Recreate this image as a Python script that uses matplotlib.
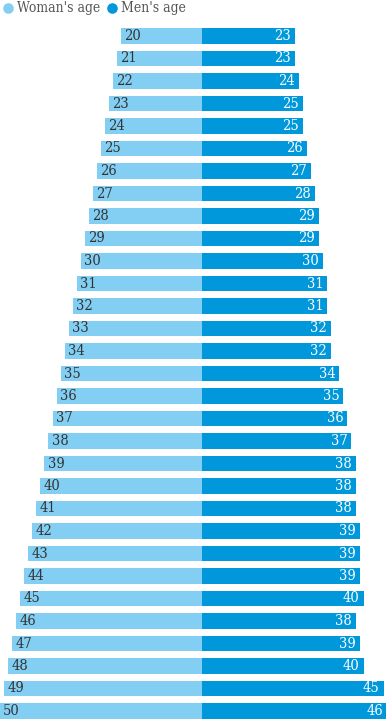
import numpy as np
import matplotlib
matplotlib.use("Agg")
import matplotlib.pyplot as plt
from matplotlib import font_manager as fm

## Data
woman_age = list(range(20, 51))
men_age = [23, 23, 24, 25, 25, 26, 27, 28, 29, 29, 30, 31, 31, 32, 32, 34,
           35, 36, 37, 38, 38, 38, 39, 39, 39, 40, 38, 39, 40, 45, 46]
legend_labels = ["Woman's age", "Men's age"]

light_blue = "#82cff3"
dark_blue = "#0098db"
text_grey = "#333333"

plt.rcParams['font.family'] = ['DejaVu Serif']
plt.rcParams['font.stretch'] = 'condensed'

fig = plt.figure(figsize=(3.86, 7.2), dpi=100)
ax = fig.add_axes([0, 0, 1, 1])

rows = np.arange(len(woman_age))
ax.barh(rows, -np.array(woman_age), height=0.7, color=light_blue, left=0)
ax.barh(rows, men_age, height=0.7, color=dark_blue, left=0)

for i, (w, m) in enumerate(zip(woman_age, men_age)):
    ax.text(-w + 0.8, i, str(w), ha="left", va="center", fontsize=10.5,
            color=text_grey)
    ax.text(m - 1.0, i, str(m), ha="right", va="center", fontsize=10.5,
            color="white")

# px -> data: centre at 202px, 4.04 px per year; rows 22.5px apart from y=36
ax.set_xlim(-202 / 4.04, (386 - 202) / 4.04)
ax.set_ylim((720 - 36) / 22.5, -36 / 22.5)
ax.axis("off")

## Legend across the top
for x0, label, col in [(8, legend_labels[0], light_blue),
                       (112, legend_labels[1], dark_blue)]:
    ax.scatter([x0 / 386], [1 - 7.5 / 720], s=58, color=col,
               transform=ax.transAxes, clip_on=False, linewidths=0)
    fig.text((x0 + 9) / 386, 1 - 8 / 720, label, ha="left", va="center",
             fontsize=10, color="#555555")

fig.savefig("out.png", dpi=100)
